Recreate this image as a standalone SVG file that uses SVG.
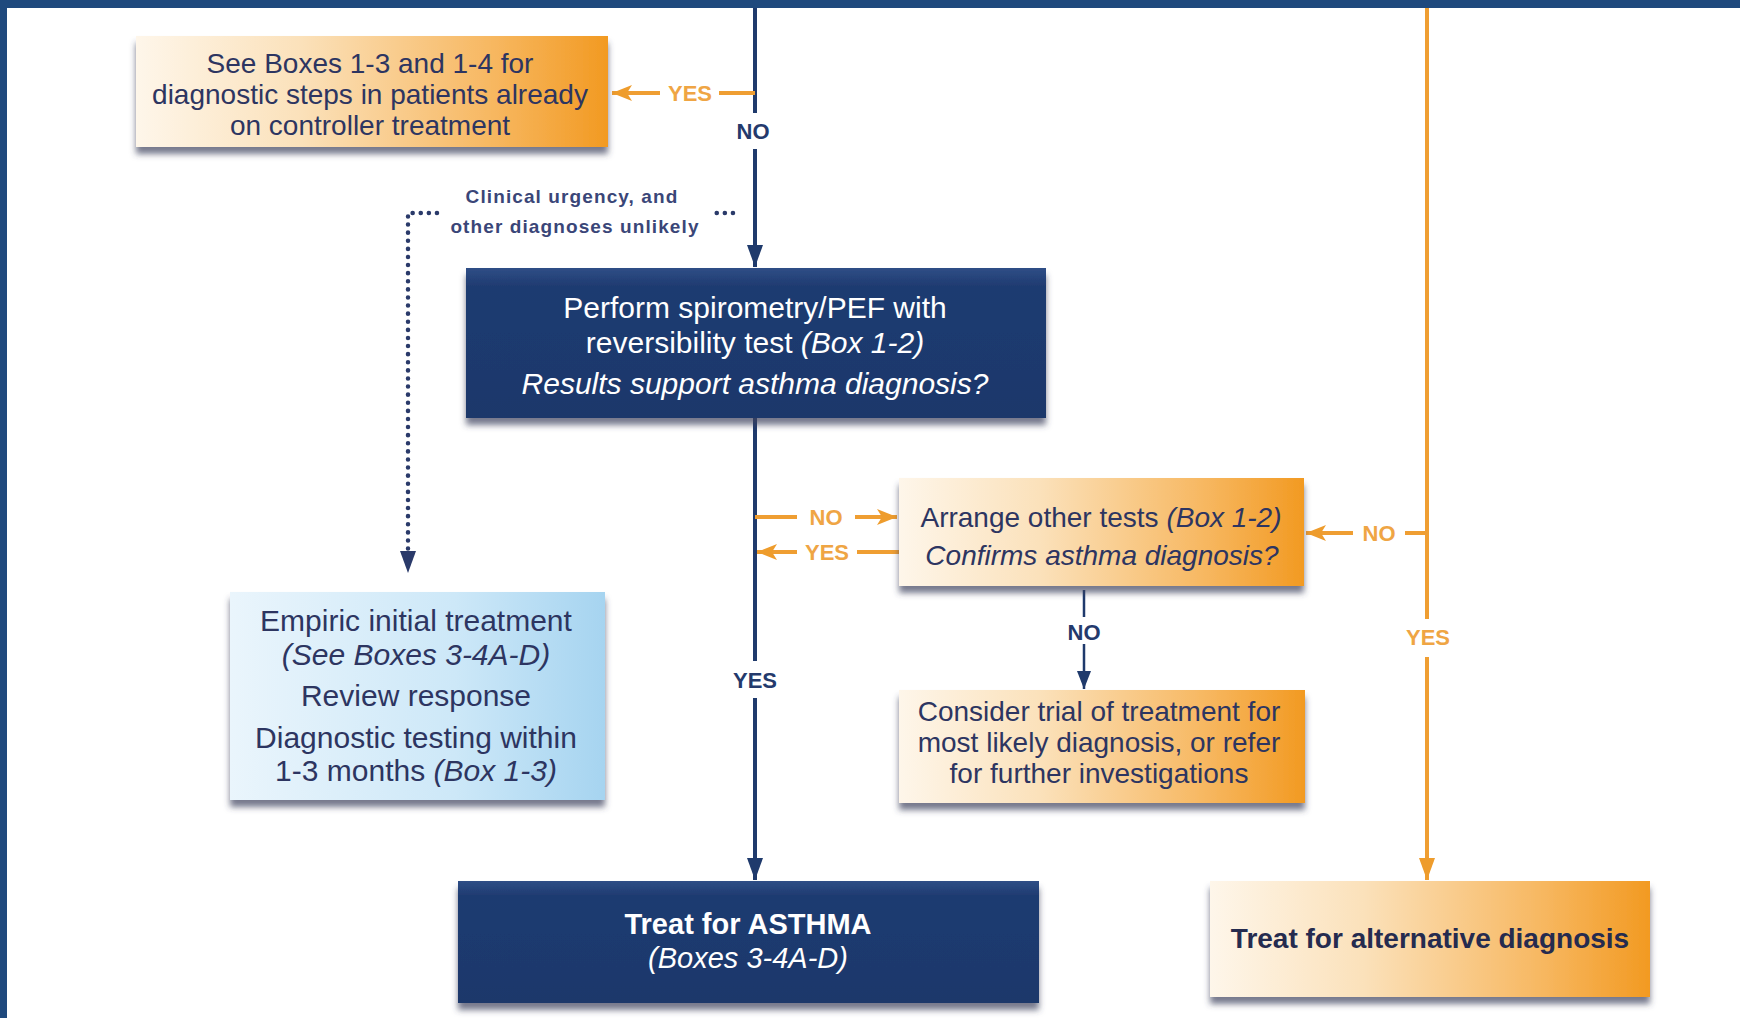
<svg xmlns="http://www.w3.org/2000/svg" width="1740" height="1018" viewBox="0 0 1740 1018">
<defs>
<linearGradient id="gOr" x1="0" y1="0" x2="1" y2="0">
<stop offset="0" stop-color="#fef6ea"/><stop offset="0.35" stop-color="#fbe1ba"/><stop offset="0.75" stop-color="#f7b862"/><stop offset="1" stop-color="#f29a22"/>
</linearGradient>
<linearGradient id="gBl" x1="0" y1="0" x2="1" y2="0">
<stop offset="0" stop-color="#eaf5fc"/><stop offset="0.6" stop-color="#cde8f8"/><stop offset="1" stop-color="#a6d4f0"/>
</linearGradient>
<linearGradient id="gDk" x1="0" y1="0" x2="0" y2="1">
<stop offset="0" stop-color="#2f4e86"/><stop offset="0.12" stop-color="#1f3b71"/><stop offset="1" stop-color="#1e386b"/>
</linearGradient>
<filter id="sh" x="-5%" y="-10%" width="110%" height="130%">
<feDropShadow dx="0" dy="7" stdDeviation="3" flood-color="#3a3f5c" flood-opacity="0.7"/>
</filter>
<marker id="aDown" viewBox="0 0 22 16" refX="22" refY="8" markerWidth="22" markerHeight="16" markerUnits="userSpaceOnUse" orient="auto">
<path d="M0,0 L22,8 L0,16 z" fill="#1f3a6c"/>
</marker>
<marker id="aDownOr" viewBox="0 0 22 16" refX="22" refY="8" markerWidth="22" markerHeight="16" markerUnits="userSpaceOnUse" orient="auto">
<path d="M0,0 L22,8 L0,16 z" fill="#ee9c2c"/>
</marker>
<marker id="aSm" viewBox="0 0 18 14" refX="18" refY="7" markerWidth="18" markerHeight="14" markerUnits="userSpaceOnUse" orient="auto">
<path d="M0,0 L18,7 L0,14 z" fill="#1f3a6c"/>
</marker>
<marker id="aOr" viewBox="0 0 20 16" refX="20" refY="8" markerWidth="20" markerHeight="16" markerUnits="userSpaceOnUse" orient="auto">
<path d="M0,0 L20,8 L0,16 L5,8 z" fill="#ee9c2c"/>
</marker>
<style>
.t{font-family:"Liberation Sans",Arial,sans-serif;text-anchor:middle}
.dk{fill:#2d3561;font-size:28px}
.wh{fill:#ffffff;font-size:30px}
.i{font-style:italic}
.b{font-weight:bold}
.lblD{font-family:"Liberation Sans",Arial,sans-serif;font-weight:bold;font-size:22px;fill:#243a6c;text-anchor:middle}
.lblO{font-family:"Liberation Sans",Arial,sans-serif;font-weight:bold;font-size:22px;fill:#efa544;text-anchor:middle}
.lnD{stroke:#1f3a6c;stroke-width:4;fill:none}
.lnO{stroke:#ef9e32;stroke-width:4;fill:none}
.dot{stroke:#2a3a6a;stroke-width:4.5;fill:none;stroke-dasharray:0.1 8;stroke-linecap:round}
</style>
</defs>
<rect x="0" y="0" width="1740" height="1018" fill="#ffffff"/>
<rect x="0" y="0" width="1740" height="8" fill="#1f497d"/>
<rect x="0" y="0" width="7" height="1018" fill="#1f497d"/>

<g id="connectors">
<path class="lnD" d="M755 8 V113"/>
<path class="lnD" d="M755 149 V267" marker-end="url(#aDown)"/>
<path class="lnD" d="M755 418 V661"/>
<path class="lnD" d="M755 698 V880" marker-end="url(#aDown)"/>
<path class="lnO" d="M755 93 H719"/>
<path class="lnO" d="M660 93 H612" marker-end="url(#aOr)"/>
<path class="dot" d="M733 213 H710"/>
<path class="dot" d="M437 213 H408 V552"/>
<path d="M400 551 L416 551 L408 573 z" fill="#2a3a6a"/>
<path class="lnO" d="M755 517 H797"/>
<path class="lnO" d="M855 517 H897" marker-end="url(#aOr)"/>
<path class="lnO" d="M899 552 H857"/>
<path class="lnO" d="M797 552 H757" marker-end="url(#aOr)"/>
<path class="lnO" d="M1427 8 V619"/>
<path class="lnO" d="M1427 657 V880" marker-end="url(#aDownOr)"/>
<path class="lnO" d="M1427 533 H1405"/>
<path class="lnO" d="M1353 533 H1306" marker-end="url(#aOr)"/>
<path d="M1084 590 V617" stroke="#1f3a6c" stroke-width="2.5" fill="none"/>
<path d="M1084 644 V689" stroke="#1f3a6c" stroke-width="2.5" fill="none" marker-end="url(#aSm)"/>
<text class="lblD" x="753" y="139">NO</text>
<text class="lblO" x="690" y="101">YES</text>
<text class="lblO" x="826" y="525">NO</text>
<text class="lblO" x="827" y="560">YES</text>
<text class="lblO" x="1379" y="541">NO</text>
<text class="lblO" x="1428" y="645">YES</text>
<text class="lblD" x="755" y="688">YES</text>
<text class="lblD" x="1084" y="640">NO</text>
<text class="t b" x="572" y="203" style="font-size:19px;fill:#3a4678;letter-spacing:1.1px">Clinical urgency, and</text>
<text class="t b" x="575" y="233" style="font-size:19px;fill:#3a4678;letter-spacing:1.1px">other diagnoses unlikely</text>
</g>

<g id="node-see-boxes">
<rect x="136" y="36" width="472" height="111" fill="url(#gOr)" filter="url(#sh)"/>
<text class="t dk" x="370" y="73">See Boxes 1-3 and 1-4 for</text>
<text class="t dk" x="370" y="104">diagnostic steps in patients already</text>
<text class="t dk" x="370" y="135">on controller treatment</text>
</g>

<g id="node-spirometry">
<rect x="466" y="268" width="580" height="150" fill="url(#gDk)" filter="url(#sh)"/>
<text class="t wh" x="755" y="318">Perform spirometry/PEF with</text>
<text class="t wh" x="755" y="353">reversibility test <tspan class="i">(Box 1-2)</tspan></text>
<text class="t wh i" x="755" y="394">Results support asthma diagnosis?</text>
</g>

<g id="node-arrange">
<rect x="899" y="478" width="405" height="108" fill="url(#gOr)" filter="url(#sh)"/>
<text class="t dk" x="1101" y="527">Arrange other tests <tspan class="i">(Box 1-2)</tspan></text>
<text class="t dk i" x="1102" y="565">Confirms asthma diagnosis?</text>
</g>

<g id="node-consider">
<rect x="899" y="690" width="406" height="113" fill="url(#gOr)" filter="url(#sh)"/>
<text class="t dk" x="1099" y="721">Consider trial of treatment for</text>
<text class="t dk" x="1099" y="752">most likely diagnosis, or refer</text>
<text class="t dk" x="1099" y="783">for further investigations</text>
</g>

<g id="node-empiric">
<rect x="230" y="592" width="375" height="208" fill="url(#gBl)" filter="url(#sh)"/>
<text class="t dk" x="416" y="631" style="font-size:30px">Empiric initial treatment</text>
<text class="t dk i" x="416" y="665" style="font-size:30px">(See Boxes 3-4A-D)</text>
<text class="t dk" x="416" y="706" style="font-size:30px">Review response</text>
<text class="t dk" x="416" y="748" style="font-size:30px">Diagnostic testing within</text>
<text class="t dk" x="416" y="781" style="font-size:30px">1-3 months <tspan class="i">(Box 1-3)</tspan></text>
</g>

<g id="node-treat-asthma">
<rect x="458" y="881" width="581" height="122" fill="url(#gDk)" filter="url(#sh)"/>
<text class="t wh b" x="748" y="934" style="font-size:29px">Treat for ASTHMA</text>
<text class="t wh i" x="748" y="968" style="font-size:29px">(Boxes 3-4A-D)</text>
</g>

<g id="node-treat-alt">
<rect x="1210" y="881" width="440" height="116" fill="url(#gOr)" filter="url(#sh)"/>
<text class="t b" x="1430" y="948" style="font-size:28px;fill:#252b4f">Treat for alternative diagnosis</text>
</g>
</svg>
